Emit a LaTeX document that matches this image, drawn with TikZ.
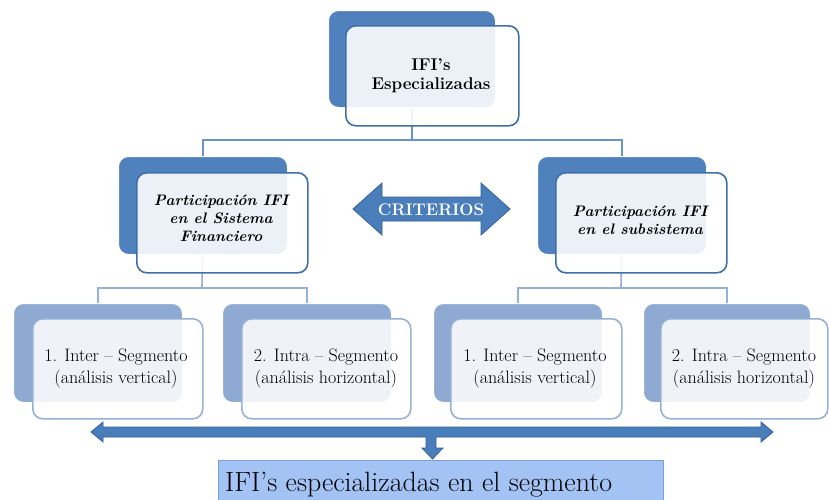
\documentclass[tikz,border=0pt]{standalone}
\usepackage{fontspec}
\definecolor{dkblue}{HTML}{4F81BD}
\definecolor{dkline}{HTML}{3F6FA8}
\definecolor{ltblue}{HTML}{8EAAD2}
\definecolor{ltline}{HTML}{95B1D8}
\definecolor{arrowc}{HTML}{4A7EBB}
\definecolor{arrowd}{HTML}{33609A}
\definecolor{boxfill}{HTML}{A4C3F5}
\definecolor{boxline}{HTML}{7C9FD3}
\pgfdeclarelayer{bg}
\pgfsetlayers{bg,main}
\tikzset{
  backA/.style={fill=dkblue, draw=white, line width=1pt, rounded corners=10pt, anchor=north west, inner sep=0pt},
  frontA/.style={fill=white, fill opacity=0.89, text opacity=1, draw=dkline, line width=1.6pt, rounded corners=10pt, anchor=north west, inner sep=0pt, align=center},
  backB/.style={fill=ltblue, draw=white, line width=1pt, rounded corners=10pt, anchor=north west, inner sep=0pt},
  frontB/.style={fill=white, fill opacity=0.86, text opacity=1, draw=ltline, line width=1.6pt, rounded corners=10pt, anchor=north west, inner sep=0pt, align=center},
  connA/.style={draw=dkblue!85!white, line width=1.6pt},
  connB/.style={draw=ltline, line width=1.6pt},
  txtA/.style={font=\fontsize{17}{19}\selectfont\bfseries, align=center},
  txtB/.style={font=\fontsize{15.2}{18}\selectfont\bfseries\itshape, align=center},
  txtC/.style={font=\fontsize{18}{22}\selectfont, align=center},
}
\begin{document}
\begin{tikzpicture}[x=1pt,y=-1pt]
\useasboundingbox (0,0) rectangle (829,499);
\clip (0,0) rectangle (829,499);
\begin{pgfonlayer}{bg}
\fill[white] (0,0) rectangle (829,499);
\end{pgfonlayer}

% level 1
\node[backA, minimum width=167pt, minimum height=97pt] (t0b) at (328,10) {};
\node[frontA, minimum width=173pt, minimum height=100pt] (t0f) at (345,25) {};
\node[txtA] (t0t) at (431,76) {IFI’s\\Especializadas};

% level 2
\node[backA, minimum width=169pt, minimum height=98pt] (l1b) at (118,156) {};
\node[frontA, minimum width=171pt, minimum height=100pt] (l1f) at (136,172) {};
\node[txtB] (l1t) at (221,218) {Participación IFI\\en el Sistema\\Financiero};

\node[backA, minimum width=169pt, minimum height=98pt] (r1b) at (537,156) {};
\node[frontA, minimum width=171pt, minimum height=100pt] (r1f) at (555,172) {};
\node[txtB] (r1t) at (640,220) {Participación IFI\\en el subsistema};

% criterios arrow
\fill[arrowc, draw=arrowd, line width=0.8pt] (353,209) -- (382,183) -- (382,197) -- (481,197) -- (481,183) -- (510,209) -- (481,235) -- (481,221) -- (382,221) -- (382,235) -- cycle;
\node[font=\fontsize{16.8}{18}\selectfont\bfseries, text=white] (crit) at (431,210) {CRITERIOS};

% level 3
\node[backB, minimum width=169pt, minimum height=99pt] (a1b) at (13,303) {};
\node[frontB, minimum width=170pt, minimum height=100pt] (a1f) at (32,318) {};
\node[txtC] (a1t) at (116,368) {1. Inter – Segmento\\(análisis vertical)};

\node[backB, minimum width=169pt, minimum height=99pt] (a2b) at (222,303) {};
\node[frontB, minimum width=169pt, minimum height=100pt] (a2f) at (241,318) {};
\node[txtC] (a2t) at (326,368) {2. Intra – Segmento\\(análisis horizontal)};

\node[backB, minimum width=169pt, minimum height=99pt] (b1b) at (433,303) {};
\node[frontB, minimum width=171pt, minimum height=100pt] (b1f) at (450,318) {};
\node[txtC] (b1t) at (535,368) {1. Inter – Segmento\\(análisis vertical)};

\node[backB, minimum width=167pt, minimum height=99pt] (b2b) at (643,303) {};
\node[frontB, minimum width=167pt, minimum height=100pt] (b2f) at (660,318) {};
\node[txtC] (b2t) at (744,368) {2. Intra – Segmento\\(análisis horizontal)};

% connectors
\coordinate (h0) at (412,140);
\coordinate (hl) at (202,288);
\coordinate (hr) at (621,288);
\begin{pgfonlayer}{bg}
\draw[connA] (t0b.center) -- (h0) -| (l1b.center);
\draw[connA] (h0) -| (r1b.center);
\draw[connB] (l1b.center) -- (hl) -| (a1b.center);
\draw[connB] (hl) -| (a2b.center);
\draw[connB] (r1b.center) -- (hr) -| (b1b.center);
\draw[connB] (hr) -| (b2b.center);
\end{pgfonlayer}

% bottom box
\node[fill=boxfill, draw=boxline, line width=1pt, anchor=north west, minimum width=445pt, minimum height=45pt, inner sep=0pt] (res) at (218,460) {};
\node[font=\fontsize{27.9}{30}\selectfont, anchor=base west, inner sep=0pt] (rest) at (225,491) {IFI’s especializadas en el segmento};

% bottom arrow
\fill[arrowc, draw=arrowd, line width=0.8pt] (91,432) -- (103,422) -- (103,427) -- (761,427) -- (761,422) -- (773,432) -- (761,442) -- (761,437) -- (436,437) -- (436,448) -- (443,448) -- (432.5,459) -- (422,448) -- (426,448) -- (426,437) -- (103,437) -- (103,442) -- cycle;
\end{tikzpicture}
\end{document}
